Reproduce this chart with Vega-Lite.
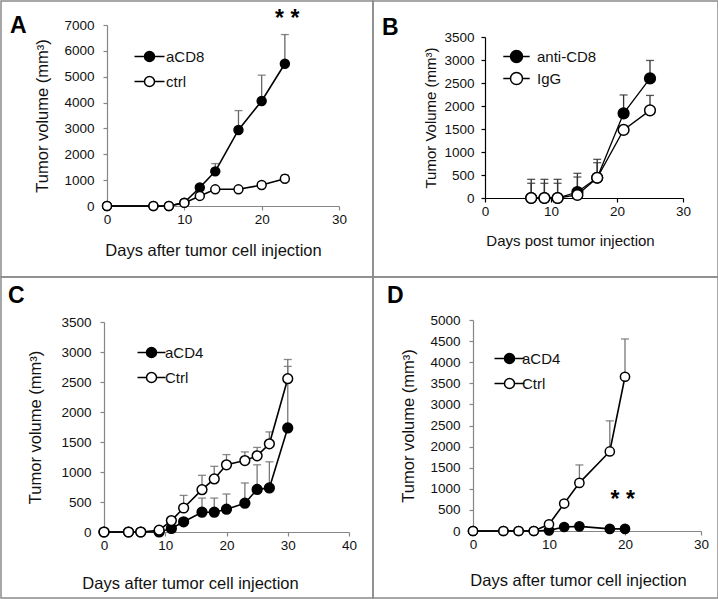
{
  "$schema": "https://vega.github.io/schema/vega-lite/v6.json",
  "padding": 0,
  "background": "white",
  "columns": 2,
  "spacing": 0,
  "bounds": "flush",
  "resolve": {
    "scale": {"x": "independent", "y": "independent", "fill": "independent"},
    "axis": {"x": "independent", "y": "independent"},
    "legend": {"fill": "independent"}
  },
  "config": {
    "font": "Liberation Sans",
    "view": {"stroke": "#8a8a8a", "strokeWidth": 1.5},
    "axis": {
      "grid": false,
      "labelFont": "Liberation Sans",
      "titleFont": "Liberation Sans",
      "labelColor": "#111111",
      "titleColor": "#111111",
      "titleFontWeight": "normal",
      "labelFlush": false,
      "labelOverlap": false,
      "tickSize": 4,
      "domainWidth": 1.2,
      "tickWidth": 1.2
    },
    "legend": {"labelFont": "Liberation Sans", "labelColor": "#111111"},
    "title": {"font": "Liberation Sans", "color": "#000000"}
  },
  "concat": [
    {
      "width": 372,
      "height": 276,
      "title": {"text": "A", "anchor": "start", "frame": "group", "orient": "top", "offset": -55, "dx": 9, "baseline": "alphabetic", "fontSize": 23, "fontWeight": "bold"},
      "data": {"values": [
        {"group": "aCD8", "day": 0, "vol": 0, "upper": null},
        {"group": "aCD8", "day": 6, "vol": 0, "upper": null},
        {"group": "aCD8", "day": 8, "vol": 0, "upper": null},
        {"group": "aCD8", "day": 10, "vol": 130, "upper": null},
        {"group": "aCD8", "day": 12, "vol": 715, "upper": null},
        {"group": "aCD8", "day": 14, "vol": 1340, "upper": 1640},
        {"group": "aCD8", "day": 17, "vol": 2940, "upper": 3690},
        {"group": "aCD8", "day": 20, "vol": 4060, "upper": 5060},
        {"group": "aCD8", "day": 23, "vol": 5500, "upper": 6630},
        {"group": "ctrl", "day": 0, "vol": 0, "upper": null},
        {"group": "ctrl", "day": 6, "vol": 0, "upper": null},
        {"group": "ctrl", "day": 8, "vol": 0, "upper": null},
        {"group": "ctrl", "day": 10, "vol": 120, "upper": null},
        {"group": "ctrl", "day": 12, "vol": 390, "upper": null},
        {"group": "ctrl", "day": 14, "vol": 645, "upper": null},
        {"group": "ctrl", "day": 17, "vol": 645, "upper": null},
        {"group": "ctrl", "day": 20, "vol": 810, "upper": null},
        {"group": "ctrl", "day": 23, "vol": 1055, "upper": 1200}
      ]},
      "encoding": {
        "x": {"field": "day", "type": "quantitative",
          "scale": {"domain": [0, 30], "range": [106, 338], "nice": false, "zero": false},
          "axis": {"values": [0, 10, 20, 30], "format": "d", "title": "Days after tumor cell injection", "offset": -71,
            "domainColor": "#868686", "tickColor": "#868686", "labelFontSize": 13.5, "labelPadding": 2,
            "titleFontSize": 16.5, "titleX": 212, "titleY": 49, "titleBaseline": "alphabetic"}},
        "y": {"field": "vol", "type": "quantitative",
          "scale": {"domain": [0, 7000], "range": [205, 24], "nice": false, "zero": false},
          "axis": {"values": [0, 1000, 2000, 3000, 4000, 5000, 6000, 7000], "format": "d", "title": "Tumor volume (mm³)", "offset": -106,
            "domainColor": "#868686", "tickColor": "#868686", "labelFontSize": 13.5, "labelPadding": 9,
            "titleFontSize": 16.5, "titlePadding": 13}}
      },
      "layer": [
        {"transform": [{"filter": "isValid(datum.upper)"}],
         "mark": {"type": "errorbar", "ticks": {"size": 8, "color": "#555555", "thickness": 1.3}, "rule": {"color": "#666666", "strokeWidth": 1.3}},
         "encoding": {"y2": {"field": "upper"}}},
        {"mark": {"type": "line", "color": "black", "strokeWidth": 1.6}, "encoding": {"detail": {"field": "group"}}},
        {"mark": {"type": "point", "shape": "circle", "filled": true, "stroke": "black", "strokeWidth": 1.5, "size": 80, "opacity": 1},
         "encoding": {"fill": {"field": "group", "type": "nominal", "sort": null,
           "scale": {"domain": ["aCD8", "ctrl"], "range": ["black", "white"]},
           "legend": {"orient": "none", "legendX": 141, "legendY": 48, "title": null,
             "symbolType": "M-3,0H-1A1,1 0 1,1 1,0A1,1 0 1,1 -1,0M1,0H3", "symbolSize": 100,
             "symbolStrokeColor": "black", "symbolStrokeWidth": 1.5, "labelFontSize": 15, "labelOffset": 9, "rowPadding": 8, "padding": 0}}}},
        {"data": {"values": [{"day": 23.3, "vol": 7230, "label": "* *"}]},
         "mark": {"type": "text", "fontSize": 23, "fontWeight": "bold", "baseline": "middle", "align": "center", "color": "black"},
         "encoding": {"text": {"field": "label"}}}
      ]
    },
    {
      "width": 345,
      "height": 276,
      "title": {"text": "B", "anchor": "start", "frame": "group", "orient": "top", "offset": -57, "dx": 9, "baseline": "alphabetic", "fontSize": 23, "fontWeight": "bold"},
      "data": {"values": [
        {"group": "anti-CD8", "day": 7, "vol": 0, "upper": 320},
        {"group": "anti-CD8", "day": 9, "vol": 0, "upper": 320},
        {"group": "anti-CD8", "day": 11, "vol": 0, "upper": 320},
        {"group": "anti-CD8", "day": 14, "vol": 130, "upper": 456},
        {"group": "anti-CD8", "day": 17, "vol": 440, "upper": 767},
        {"group": "anti-CD8", "day": 21, "vol": 1840, "upper": 2240},
        {"group": "anti-CD8", "day": 25, "vol": 2600, "upper": 2990},
        {"group": "IgG", "day": 7, "vol": 0, "upper": 406},
        {"group": "IgG", "day": 9, "vol": 0, "upper": 406},
        {"group": "IgG", "day": 11, "vol": 0, "upper": 406},
        {"group": "IgG", "day": 14, "vol": 65, "upper": 537},
        {"group": "IgG", "day": 17, "vol": 440, "upper": 841},
        {"group": "IgG", "day": 21, "vol": 1480, "upper": null},
        {"group": "IgG", "day": 25, "vol": 1905, "upper": 2230}
      ]},
      "encoding": {
        "x": {"field": "day", "type": "quantitative",
          "scale": {"domain": [0, 30], "range": [112, 310], "nice": false, "zero": false},
          "axis": {"values": [0, 10, 20, 30], "format": "d", "title": "Days post tumor injection", "offset": -79,
            "domainColor": "#000000", "tickColor": "#000000", "labelFontSize": 13.5, "labelPadding": 2,
            "titleFontSize": 15, "titleX": 197, "titleY": 47, "titleBaseline": "alphabetic"}},
        "y": {"field": "vol", "type": "quantitative",
          "scale": {"domain": [0, 3500], "range": [197, 36], "nice": false, "zero": false},
          "axis": {"values": [0, 500, 1000, 1500, 2000, 2500, 3000, 3500], "format": "d", "title": "Tumor Volume (mm³)", "offset": -112,
            "domainColor": "#000000", "tickColor": "#000000", "labelFontSize": 13.5, "labelPadding": 7,
            "titleFontSize": 15, "titlePadding": 5}}
      },
      "layer": [
        {"transform": [{"filter": "isValid(datum.upper)"}],
         "mark": {"type": "errorbar", "ticks": {"size": 8, "color": "#111111", "thickness": 1.3}, "rule": {"color": "#333333", "strokeWidth": 1.3}},
         "encoding": {"y2": {"field": "upper"}}},
        {"mark": {"type": "line", "color": "black", "strokeWidth": 1.3}, "encoding": {"detail": {"field": "group"}}},
        {"mark": {"type": "point", "shape": "circle", "filled": true, "stroke": "black", "strokeWidth": 1.5, "size": 115, "opacity": 1},
         "encoding": {"fill": {"field": "group", "type": "nominal", "sort": null,
           "scale": {"domain": ["anti-CD8", "IgG"], "range": ["black", "white"]},
           "legend": {"orient": "none", "legendX": 136, "legendY": 48, "title": null,
             "symbolType": "M-2.2,0H-1A1,1 0 1,1 1,0A1,1 0 1,1 -1,0M1,0H2.2", "symbolSize": 144,
             "symbolStrokeColor": "black", "symbolStrokeWidth": 1.5, "labelFontSize": 15, "labelOffset": 13, "rowPadding": 3, "padding": 0}}}}
      ]
    },
    {
      "width": 372,
      "height": 321,
      "title": {"text": "C", "anchor": "start", "frame": "group", "orient": "top", "offset": -49, "dx": 7, "baseline": "alphabetic", "fontSize": 23, "fontWeight": "bold"},
      "data": {"values": [
        {"group": "aCD4", "day": 0, "vol": 0, "upper": null},
        {"group": "aCD4", "day": 4, "vol": 0, "upper": null},
        {"group": "aCD4", "day": 6, "vol": 0, "upper": null},
        {"group": "aCD4", "day": 9, "vol": 0, "upper": null},
        {"group": "aCD4", "day": 11, "vol": 60, "upper": null},
        {"group": "aCD4", "day": 13, "vol": 170, "upper": null},
        {"group": "aCD4", "day": 16, "vol": 330, "upper": 565},
        {"group": "aCD4", "day": 18, "vol": 330, "upper": 565},
        {"group": "aCD4", "day": 20, "vol": 380, "upper": 633},
        {"group": "aCD4", "day": 23, "vol": 480, "upper": 817},
        {"group": "aCD4", "day": 25, "vol": 710, "upper": 1120},
        {"group": "aCD4", "day": 27, "vol": 735, "upper": 1170},
        {"group": "aCD4", "day": 30, "vol": 1735, "upper": 2760},
        {"group": "Ctrl", "day": 0, "vol": 0, "upper": null},
        {"group": "Ctrl", "day": 4, "vol": 0, "upper": null},
        {"group": "Ctrl", "day": 6, "vol": 0, "upper": null},
        {"group": "Ctrl", "day": 9, "vol": 30, "upper": null},
        {"group": "Ctrl", "day": 11, "vol": 190, "upper": null},
        {"group": "Ctrl", "day": 13, "vol": 400, "upper": 610},
        {"group": "Ctrl", "day": 16, "vol": 705, "upper": 945},
        {"group": "Ctrl", "day": 18, "vol": 885, "upper": 1095},
        {"group": "Ctrl", "day": 20, "vol": 1120, "upper": 1290},
        {"group": "Ctrl", "day": 23, "vol": 1190, "upper": 1335},
        {"group": "Ctrl", "day": 25, "vol": 1270, "upper": 1410},
        {"group": "Ctrl", "day": 27, "vol": 1470, "upper": 1668},
        {"group": "Ctrl", "day": 30, "vol": 2555, "upper": 2875}
      ]},
      "encoding": {
        "x": {"field": "day", "type": "quantitative",
          "scale": {"domain": [0, 40], "range": [103, 348], "nice": false, "zero": false},
          "axis": {"values": [0, 10, 20, 30, 40], "format": "d", "title": "Days after tumor cell injection", "offset": -66,
            "domainColor": "#868686", "tickColor": "#868686", "labelFontSize": 13.5, "labelPadding": 2,
            "titleFontSize": 16.5, "titleX": 189, "titleY": 56, "titleBaseline": "alphabetic"}},
        "y": {"field": "vol", "type": "quantitative",
          "scale": {"domain": [0, 3500], "range": [255, 45], "nice": false, "zero": false},
          "axis": {"values": [0, 500, 1000, 1500, 2000, 2500, 3000, 3500], "format": "d", "title": "Tumor volume (mm³)", "offset": -103,
            "domainColor": "#868686", "tickColor": "#868686", "labelFontSize": 13.5, "labelPadding": 9,
            "titleFontSize": 16.5, "titlePadding": 17}}
      },
      "layer": [
        {"transform": [{"filter": "isValid(datum.upper)"}],
         "mark": {"type": "errorbar", "ticks": {"size": 8, "color": "#555555", "thickness": 1.3}, "rule": {"color": "#777777", "strokeWidth": 1.3}},
         "encoding": {"y2": {"field": "upper"}}},
        {"mark": {"type": "line", "color": "black", "strokeWidth": 1.6}, "encoding": {"detail": {"field": "group"}}},
        {"mark": {"type": "point", "shape": "circle", "filled": true, "stroke": "black", "strokeWidth": 1.5, "size": 95, "opacity": 1},
         "encoding": {"fill": {"field": "group", "type": "nominal", "sort": null,
           "scale": {"domain": ["aCD4", "Ctrl"], "range": ["black", "white"]},
           "legend": {"orient": "none", "legendX": 143, "legendY": 68, "title": null,
             "symbolType": "M-2.8,0H-1A1,1 0 1,1 1,0A1,1 0 1,1 -1,0M1,0H2.8", "symbolSize": 100,
             "symbolStrokeColor": "black", "symbolStrokeWidth": 1.5, "labelFontSize": 15, "labelOffset": 6, "rowPadding": 8, "padding": 0}}}}
      ]
    },
    {
      "width": 345,
      "height": 321,
      "title": {"text": "D", "anchor": "start", "frame": "group", "orient": "top", "offset": -49, "dx": 14, "baseline": "alphabetic", "fontSize": 23, "fontWeight": "bold"},
      "data": {"values": [
        {"group": "aCD4", "day": 0, "vol": 0, "upper": null},
        {"group": "aCD4", "day": 4, "vol": 0, "upper": null},
        {"group": "aCD4", "day": 6, "vol": 0, "upper": null},
        {"group": "aCD4", "day": 8, "vol": 0, "upper": null},
        {"group": "aCD4", "day": 10, "vol": 15, "upper": null},
        {"group": "aCD4", "day": 12, "vol": 95, "upper": null},
        {"group": "aCD4", "day": 14, "vol": 110, "upper": null},
        {"group": "aCD4", "day": 18, "vol": 50, "upper": null},
        {"group": "aCD4", "day": 20, "vol": 50, "upper": null},
        {"group": "Ctrl", "day": 0, "vol": 0, "upper": null},
        {"group": "Ctrl", "day": 4, "vol": 0, "upper": null},
        {"group": "Ctrl", "day": 6, "vol": 0, "upper": null},
        {"group": "Ctrl", "day": 8, "vol": 0, "upper": null},
        {"group": "Ctrl", "day": 10, "vol": 160, "upper": null},
        {"group": "Ctrl", "day": 12, "vol": 650, "upper": null},
        {"group": "Ctrl", "day": 14, "vol": 1140, "upper": 1565},
        {"group": "Ctrl", "day": 18, "vol": 1885, "upper": 2610},
        {"group": "Ctrl", "day": 20, "vol": 3655, "upper": 4550}
      ]},
      "encoding": {
        "x": {"field": "day", "type": "quantitative",
          "scale": {"domain": [0, 30], "range": [100, 328], "nice": false, "zero": false},
          "axis": {"values": [0, 10, 20, 30], "format": "d", "title": "Days after tumor cell injection", "offset": -67,
            "domainColor": "#868686", "tickColor": "#868686", "labelFontSize": 13.5, "labelPadding": 2,
            "titleFontSize": 16.5, "titleX": 205, "titleY": 54, "titleBaseline": "alphabetic"}},
        "y": {"field": "vol", "type": "quantitative",
          "scale": {"domain": [0, 5000], "range": [254, 43], "nice": false, "zero": false},
          "axis": {"values": [0, 500, 1000, 1500, 2000, 2500, 3000, 3500, 4000, 4500, 5000], "format": "d", "title": "Tumor volume (mm³)", "offset": -100,
            "domainColor": "#868686", "tickColor": "#868686", "labelFontSize": 13.5, "labelPadding": 9,
            "titleFontSize": 16.5, "titlePadding": 13}}
      },
      "layer": [
        {"transform": [{"filter": "isValid(datum.upper)"}],
         "mark": {"type": "errorbar", "ticks": {"size": 8, "color": "#555555", "thickness": 1.3}, "rule": {"color": "#777777", "strokeWidth": 1.3}},
         "encoding": {"y2": {"field": "upper"}}},
        {"mark": {"type": "line", "color": "black", "strokeWidth": 1.6}, "encoding": {"detail": {"field": "group"}}},
        {"mark": {"type": "point", "shape": "circle", "filled": true, "stroke": "black", "strokeWidth": 1.5, "size": 85, "opacity": 1},
         "encoding": {"fill": {"field": "group", "type": "nominal", "sort": null,
           "scale": {"domain": ["aCD4", "Ctrl"], "range": ["black", "white"]},
           "legend": {"orient": "none", "legendX": 129, "legendY": 74, "title": null,
             "symbolType": "M-3,0H-1A1,1 0 1,1 1,0A1,1 0 1,1 -1,0M1,0H3", "symbolSize": 100,
             "symbolStrokeColor": "black", "symbolStrokeWidth": 1.5, "labelFontSize": 15, "labelOffset": 5, "rowPadding": 8, "padding": 0}}}},
        {"data": {"values": [{"day": 19.7, "vol": 735, "label": "* *"}]},
         "mark": {"type": "text", "fontSize": 23, "fontWeight": "bold", "baseline": "middle", "align": "center", "color": "black"},
         "encoding": {"text": {"field": "label"}}}
      ]
    }
  ]
}
